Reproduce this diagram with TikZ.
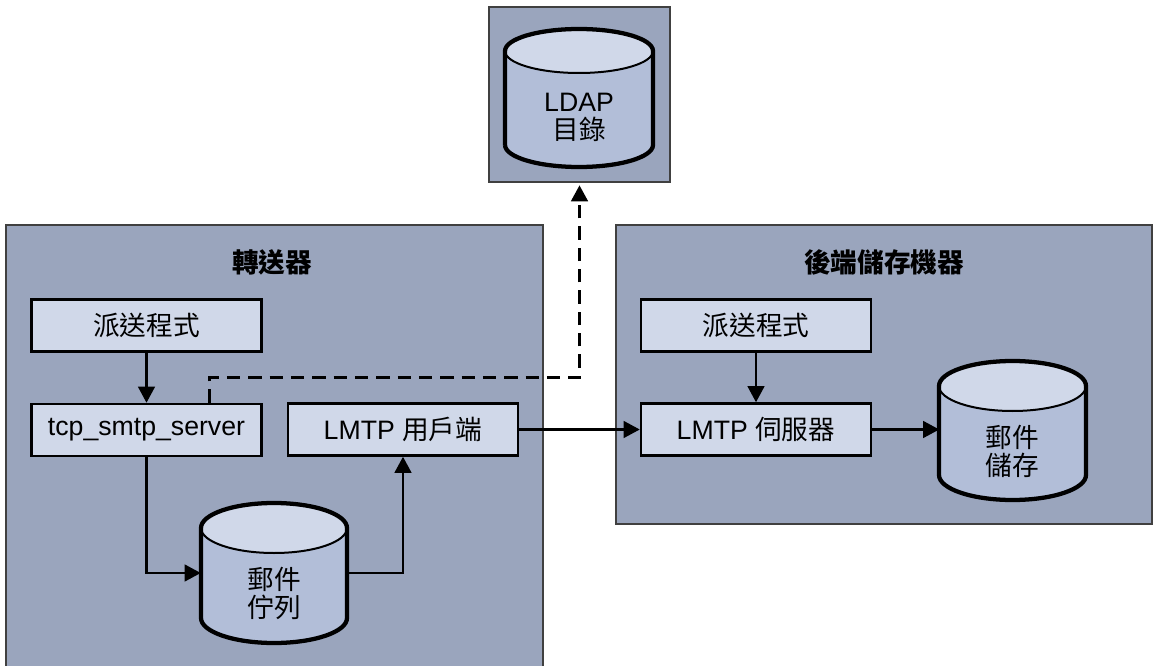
\documentclass[tikz,border=0pt]{standalone}
\usepackage{fontspec}
\setmainfont{Liberation Sans}
\newfontfamily\cjk{Noto Sans CJK TC}
\usepackage{tikz}
\usetikzlibrary{arrows.meta}

\definecolor{groupbg}{RGB}{154,165,189}
\definecolor{boxbg}{RGB}{208,216,233}
\definecolor{cylbg}{RGB}{178,190,216}

\tikzset{
	group/.style={draw=black!75, line width=1pt, fill=groupbg, inner sep=0pt},
	proc/.style={draw, line width=1.9pt, fill=boxbg, minimum width=172.5pt, minimum height=39pt, inner sep=0pt},
	grouptitle/.style={font=\fontsize{20}{21}\selectfont\cjk\bfseries},
	cyltext/.style={align=center, minimum width=109.5pt, inner sep=0pt},
	cjktext/.style={font=\fontsize{20}{21}\selectfont\cjk},
	cylbody/.style={fill=cylbg},
	cyltop/.style={fill=boxbg, draw, line width=1.5pt},
	cylrim/.style={draw, line width=3.2pt},
	flow/.style={line width=1.6pt, -{Triangle[length=12pt,width=12.5pt]}},
	query/.style={flow, line width=2pt, dashed, dash pattern=on 10pt off 6pt, shorten >=2pt},
}

\begin{document}
\begin{tikzpicture}[x=0.75pt, y=0.75pt, font=\fontsize{20}{21}\selectfont]
	\useasboundingbox (0,0) rectangle (1153,665);

	% groups
	\node[group, minimum width=135.75pt, minimum height=131.25pt] (ldapdir) at (579.5,570.5) {};
	\node[group, minimum width=402.75pt, minimum height=333.75pt] (relay) at (274.5,217.5) {};
	\node[group, minimum width=402pt, minimum height=224.25pt] (backend) at (884,290.5) {};
	\node[grouptitle] (relaytitle) at (272,403) {轉送器};
	\node[grouptitle] (backendtitle) at (884,403) {後端儲存機器};

	% LDAP directory
	\path[cylbody] (505,614) -- (505,520) arc[start angle=180, end angle=360, x radius=74, y radius=22] -- (653,614) -- cycle;
	\path[cyltop] (579,614) ellipse[x radius=74, y radius=22];
	\path[cylrim] (505,520) -- (505,614) arc[start angle=180, end angle=0, x radius=74, y radius=22] -- (653,520) arc[start angle=360, end angle=180, x radius=74, y radius=22];
	\node[cyltext] (ldap) at (579,548) {LDAP\\{\cjk 目錄}};

	% relay boxes
	\node[proc] (dispL) at (146.5,339.5) {\cjk 派送程式};
	\node[proc] (tcpsmtp) at (146.5,235) {tcp\_smtp\_server};
	\node[proc] (lmtpclient) at (403,235.5) {LMTP {\cjk 用戶端}};

	% message queue
	\path[cylbody] (201,137) -- (201,47) arc[start angle=180, end angle=360, x radius=73, y radius=25] -- (347,137) -- cycle;
	\path[cyltop] (274,137) ellipse[x radius=73, y radius=25];
	\path[cylrim] (201,47) -- (201,137) arc[start angle=180, end angle=0, x radius=73, y radius=25] -- (347,47) arc[start angle=360, end angle=180, x radius=73, y radius=25];
	\node[cyltext, cjktext] (queue) at (274,72) {郵件\\佇列};

	% back-end boxes
	\node[proc] (dispR) at (756,339.5) {\cjk 派送程式};
	\node[proc] (lmtpserver) at (756,235.5) {LMTP {\cjk 伺服器}};

	% message store
	\path[cylbody] (939,279) -- (939,190) arc[start angle=180, end angle=360, x radius=73.5, y radius=25] -- (1086,279) -- cycle;
	\path[cyltop] (1012.5,279) ellipse[x radius=73.5, y radius=25];
	\path[cylrim] (939,190) -- (939,279) arc[start angle=180, end angle=0, x radius=73.5, y radius=25] -- (1086,190) arc[start angle=360, end angle=180, x radius=73.5, y radius=25];
	\node[cyltext, cjktext] (store) at (1012.5,214) {郵件\\儲存};

	% connectors
	\draw[flow] (dispL) -- (tcpsmtp);
	\draw[flow] (tcpsmtp.south) |- ([yshift=15pt]queue.west);
	\draw[flow] ([yshift=15pt]queue.east) -| (lmtpclient.south);
	\draw[flow] (lmtpclient) -- (lmtpserver);
	\draw[flow] (dispR) -- (lmtpserver);
	\draw[flow] (lmtpserver.east) -- (lmtpserver.east -| store.west);
	\draw[query] ([xshift=47pt]tcpsmtp.north) -- ++(0,25) -| (ldapdir.south);
\end{tikzpicture}
\end{document}
